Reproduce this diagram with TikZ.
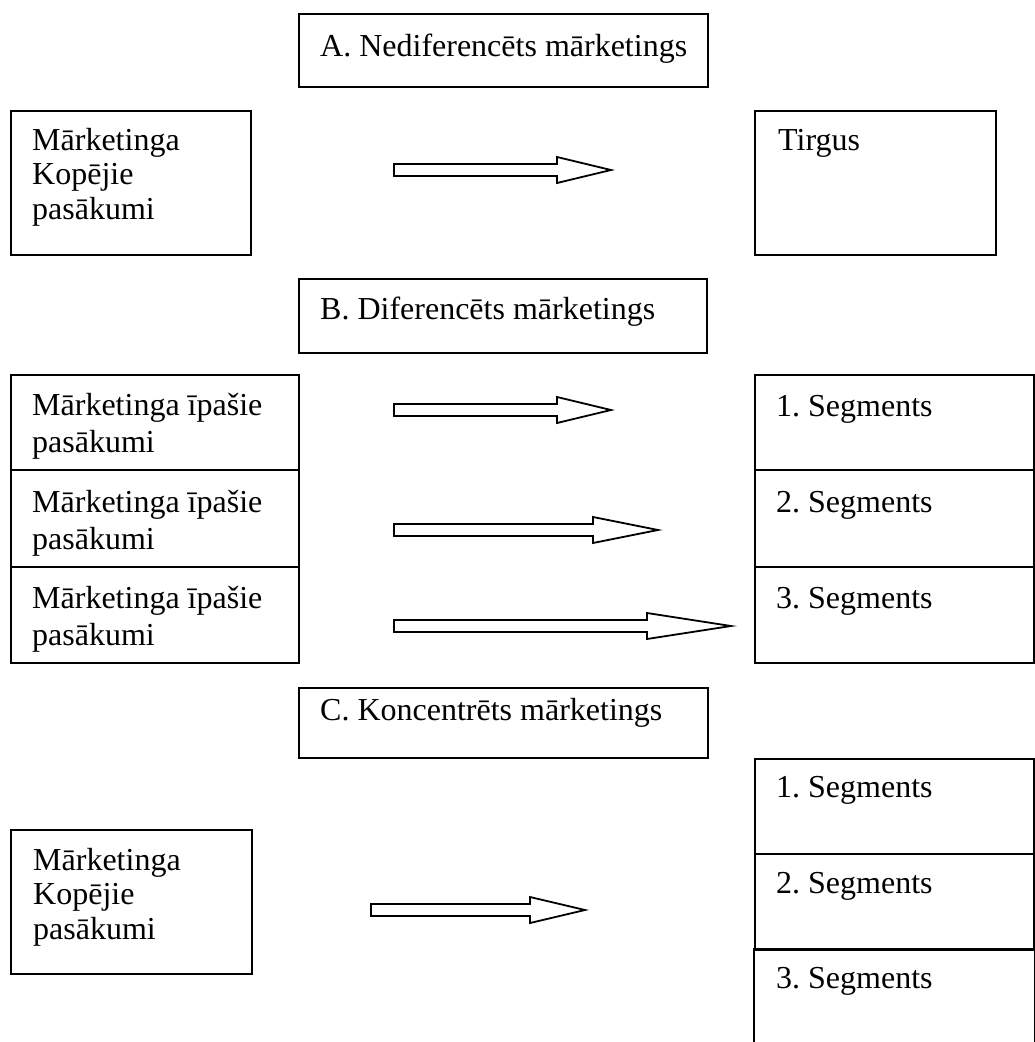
\documentclass[tikz,border=0pt]{standalone}
\usepackage{fontspec}
\setmainfont{Liberation Serif}
\usetikzlibrary{calc}
\frenchspacing
% block arrow: #1 tail coordinate, #2 tip coordinate, #3 head length (pt)
\newcommand\blockarrow[3]{%
  \draw[blockarr] let \p1=(#1), \p2=(#2) in
    (\x1,\y1+6pt) -- (\x2-#3pt,\y1+6pt) -- (\x2-#3pt,\y1+13pt) -- (\x2,\y2)
    -- (\x2-#3pt,\y1-13pt) -- (\x2-#3pt,\y1-6pt) -- (\x1,\y1-6pt) -- cycle;}
\newcommand\lines[2]{\parbox[t]{280pt}{\fontsize{32}{#1}\selectfont #2}}
\begin{document}
\begin{tikzpicture}[x=1pt,y=-1pt,
  frame/.style={draw, line width=1.8pt, rectangle, inner sep=0pt, anchor=north west},
  txt/.style={inner sep=0pt, anchor=base west, font=\fontsize{32}{36}\selectfont},
  blockarr/.style={draw, line width=1.8pt, fill=white, line join=miter}]
\useasboundingbox (0,0) rectangle (1034,1042);

% ---------- A. undifferentiated ----------
\node[frame, minimum width=409, minimum height=73] (titleA) at (298,13) {};
\node[txt] (titleAtxt) at (320,56) {A. Nediferencēts mārketings};

\node[frame, minimum width=240, minimum height=144] (mixA) at (10,110) {};
\node[txt] (mixAtxt) at (32,150) {\lines{34.5}{Mārketinga\\Kopējie\\pasākumi}};

\node[frame, minimum width=241, minimum height=144] (market) at (754,110) {};
\node[txt] (markettxt) at (778,150) {Tirgus};

\coordinate (aA0) at (394,170);
\coordinate (aA1) at (611,170);
\blockarrow{aA0}{aA1}{54}

% ---------- B. differentiated ----------
\node[frame, minimum width=408, minimum height=74] (titleB) at (298,278) {};
\node[txt] (titleBtxt) at (320,319) {B. Diferencēts mārketings};

\node[frame, minimum width=288, minimum height=95] (mixB1) at (10,374) {};
\node[frame, minimum width=288, minimum height=97] (mixB2) at (10,469) {};
\node[frame, minimum width=288, minimum height=96] (mixB3) at (10,566) {};
\node[txt] (mixB1txt) at (32,415) {\lines{37}{Mārketinga īpašie\\pasākumi}};
\node[txt] (mixB2txt) at (32,512) {\lines{37}{Mārketinga īpašie\\pasākumi}};
\node[txt] (mixB3txt) at (32,608) {\lines{37}{Mārketinga īpašie\\pasākumi}};

\node[frame, minimum width=279, minimum height=95] (segB1) at (754,374) {};
\node[frame, minimum width=279, minimum height=97] (segB2) at (754,469) {};
\node[frame, minimum width=279, minimum height=96] (segB3) at (754,566) {};
\node[txt] (segB1txt) at (776,416) {1. Segments};
\node[txt] (segB2txt) at (776,512) {2. Segments};
\node[txt] (segB3txt) at (776,608) {3. Segments};

\coordinate (aB10) at (394,410);
\coordinate (aB11) at (611,410);
\coordinate (aB20) at (394,530);
\coordinate (aB21) at (658,530);
\coordinate (aB30) at (394,626);
\coordinate (aB31) at (731,626);
\blockarrow{aB10}{aB11}{54}
\blockarrow{aB20}{aB21}{65}
\blockarrow{aB30}{aB31}{84}

% ---------- C. concentrated ----------
\node[frame, minimum width=409, minimum height=70] (titleC) at (298,687) {};
\node[txt] (titleCtxt) at (320,720) {C. Koncentrēts mārketings};

\node[frame, minimum width=241, minimum height=144] (mixC) at (10,829) {};
\node[txt] (mixCtxt) at (33,870) {\lines{34.5}{Mārketinga\\Kopējie\\pasākumi}};

\node[frame, minimum width=279, minimum height=95] (segC1) at (754,758) {};
\node[frame, minimum width=279, minimum height=96] (segC2) at (754,853) {};
\node[frame, draw=none, minimum width=279, minimum height=95] (segC3) at (754,949) {};
\draw[line width=1.8pt] (segC3.south west) -- (segC3.north west) -- (segC3.north east) -- (segC3.south east);
\node[txt] (segC1txt) at (776,797) {1. Segments};
\node[txt] (segC2txt) at (776,893) {2. Segments};
\node[txt] (segC3txt) at (776,988) {3. Segments};

\coordinate (aC0) at (371,910);
\coordinate (aC1) at (585,910);
\blockarrow{aC0}{aC1}{55}
\end{tikzpicture}
\end{document}
